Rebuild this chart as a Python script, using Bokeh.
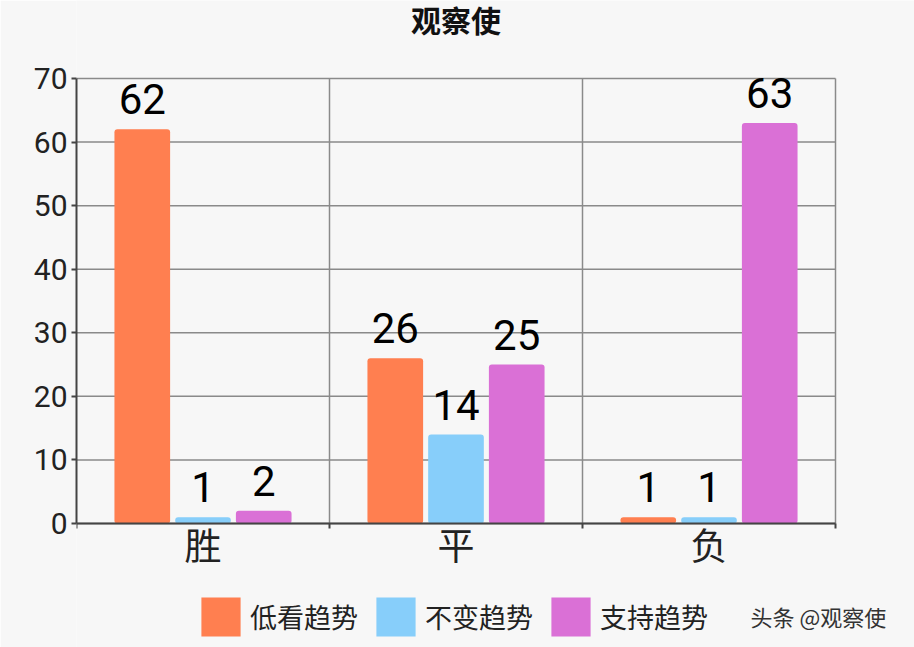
from bokeh.plotting import figure
from bokeh.models import (ColumnDataSource, Range1d, LinearAxis, FixedTicker,
                          LabelSet, Label, Legend, LegendItem)
from bokeh.core.properties import value
from bokeh.transform import dodge
from bokeh.embed import file_html
from bokeh.resources import INLINE

chart_title = "观察使"
categories = ["胜", "平", "负"]
series_names = ["低看趋势", "不变趋势", "支持趋势"]
low_values = [62, 26, 1]
same_values = [1, 14, 1]
support_values = [2, 25, 63]
y_ticks = [0, 10, 20, 30, 40, 50, 60, 70]
colors = ["#FF7F50", "#87CEFA", "#DA70D6"]
watermark = "头条 @观察使"

CJK = "Noto Sans CJK SC"
LAT = "Roboto"
BG = "#f7f7f7"
GRID = "#8a8a8a"
AXIS = "#444444"

n = len(categories)
ymax = y_ticks[-1]
centers = [i + 0.5 for i in range(n)]
bounds = list(range(n + 1))

# layout geometry (pixels): plot area 759 x 445, starting 76 px from left, 78 px from top
W, H = 914, 647
LEFT, TOP, PW, PH = 76, 78, 759, 445
px_x = PW / n
px_y = PH / ymax
x_end = (W - LEFT) / px_x
y_start = -(H - TOP - PH) / px_y
y_end = ymax + TOP / px_y

src = ColumnDataSource(dict(
    pos=centers,
    low=low_values, same=same_values, support=support_values,
    low_t=[str(v) for v in low_values],
    same_t=[str(v) for v in same_values],
    support_t=[str(v) for v in support_values],
))

p = figure(x_range=Range1d(0, x_end), y_range=Range1d(y_start, y_end),
           frame_width=W - LEFT, frame_height=H,
           min_border_left=LEFT, min_border_right=0,
           min_border_top=0, min_border_bottom=0,
           x_axis_location=None,
           output_backend="svg", toolbar_location=None,
           background_fill_color=BG, border_fill_color=BG)

p.outline_line_color = None
p.xgrid.visible = False
p.ygrid.visible = False

# grid lines limited to the plot area
p.segment(x0=[0] * len(y_ticks), y0=y_ticks, x1=[n] * len(y_ticks), y1=y_ticks,
          line_color=GRID, line_width=1.5)
p.segment(x0=bounds[1:], y0=[0] * n, x1=bounds[1:], y1=[ymax] * n,
          line_color=GRID, line_width=1.5)

# y axis
p.yaxis.ticker = FixedTicker(ticks=y_ticks)
p.yaxis.bounds = (0, ymax)
p.yaxis.axis_line_color = AXIS
p.yaxis.axis_line_width = 2
p.yaxis.major_tick_out = 5
p.yaxis.major_tick_in = 0
p.yaxis.major_tick_line_color = AXIS
p.yaxis.major_tick_line_width = 2
p.yaxis.minor_tick_out = 0
p.yaxis.minor_tick_in = 0
p.yaxis.major_label_text_font = LAT
p.yaxis.major_label_text_font_size = "30px"
p.yaxis.major_label_text_color = "#222222"
p.yaxis.major_label_standoff = 4

# x axis at y = 0: category labels at centres, tick marks at category boundaries
cat_axis = LinearAxis(fixed_location=0, bounds=(0, n),
                      ticker=FixedTicker(ticks=centers, minor_ticks=bounds),
                      major_label_overrides={c: t for c, t in zip(centers, categories)},
                      axis_line_color=AXIS, axis_line_width=2,
                      major_tick_out=0, major_tick_in=0,
                      minor_tick_out=5, minor_tick_in=0,
                      minor_tick_line_color=AXIS, minor_tick_line_width=2,
                      major_label_text_font=CJK,
                      major_label_text_font_size="37px",
                      major_label_text_color="#222222",
                      major_label_standoff=-12)
p.add_layout(cat_axis, "below")

fields = ["low", "same", "support"]
offsets = [-0.24, 0.0, 0.24]
renderers = []
for f, off, c in zip(fields, offsets, colors):
    r = p.vbar(x=dodge("pos", off), top=f, width=0.22,
               source=src, fill_color=c, line_color=None, border_radius=3)
    renderers.append(r)
    p.add_layout(LabelSet(x=dodge("pos", off), y=f, text=f + "_t",
                          source=src, y_offset=15, text_align="center",
                          text_baseline="alphabetic", text_font=value(LAT),
                          text_font_size=value("42px"), text_color="#000000"))

legend = Legend(items=[LegendItem(label=nm, renderers=[r]) for nm, r in zip(series_names, renderers)],
                orientation="horizontal", location=(120, 6),
                glyph_width=49, glyph_height=49, label_standoff=5, spacing=13,
                label_text_font=CJK, label_text_font_size="27px",
                label_text_color="#222222",
                padding=0, margin=0, background_fill_alpha=0,
                border_line_color=None)
p.add_layout(legend, "center")

# title and watermark, positioned in pixels converted to data units
p.add_layout(Label(x=n / 2, y=ymax + (TOP - 18) / px_y, text=chart_title,
                   text_align="center", text_baseline="middle",
                   text_font=CJK, text_font_size="30px", text_font_style="bold",
                   text_color="#111111"))
p.add_layout(Label(x=(750 - LEFT) / px_x, y=-(615 - TOP - PH) / px_y, text=watermark,
                   text_align="left", text_baseline="middle",
                   text_font=CJK, text_font_size="22px", text_color="#333333"))

open("out.html", "w").write(file_html(p, INLINE))
